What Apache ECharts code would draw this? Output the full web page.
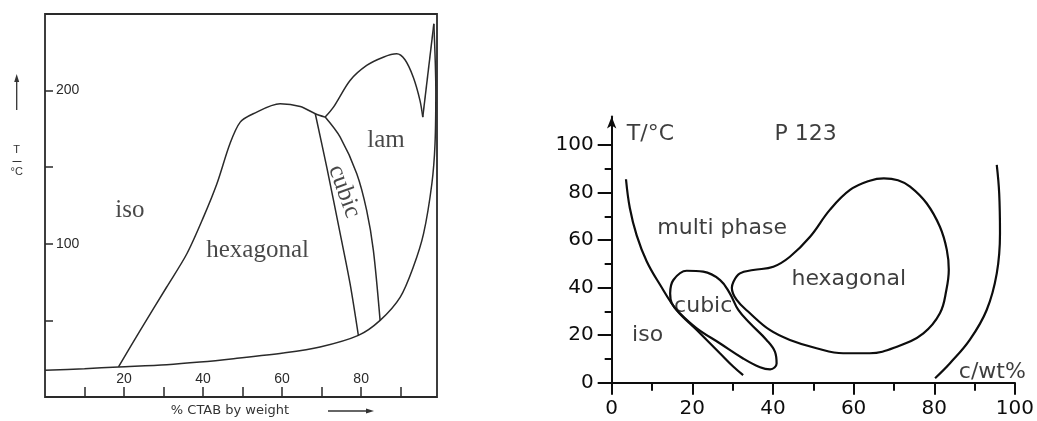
<!DOCTYPE html>
<html><head><meta charset="utf-8">
<script src="https://cdn.jsdelivr.net/npm/echarts@6/dist/echarts.min.js"></script>
<style>html,body{margin:0;padding:0;background:#fff}#c{width:1037px;height:421px}</style>
</head><body><div id="c"></div>
<script>
// ---------- Left panel: CTAB / water ----------
const ctabXTicks = [10, 20, 30, 40, 50, 60, 70, 80, 90];
const ctabXLabels = [20, 40, 60, 80];
const ctabYTicks = [50, 100, 150, 200];
const ctabYLabels = [100, 200];
const ctabSolidus = [[0,17.4],[10,18.5],[18.6,19.6],[30.8,21.1],[39.2,22.8],[47.7,25.0],[60.3,28.7],[69.6,32.6],[79.3,40.2],[84.8,50.0],[89.9,65.2],[93.2,84.8],[95.8,106.6],[97.9,139.2],[98.7,165.3],[98.9,200],[98.4,243.6]];
const ctabIsoHex = [[18.6,19.6],[24.1,43.5],[30.8,71.8],[35.9,93.5],[40.1,117.4],[43.5,139.2],[46.8,165.3],[49.4,179.4],[52.7,184.9],[59.5,191.4],[64.6,189.6],[68.4,184.9],[70.9,182.7]];
const ctabHexCubic = [[68.4,184.9],[71.3,150.0],[74.7,106.6],[77.2,74.0],[79.3,40.2]];
const ctabCubicLam = [[70.9,182.7],[74.7,169.6],[78.9,145.7],[81.4,121.8],[83.1,95.7],[84.8,50.0]];
const ctabLamTop = [[70.9,182.7],[73.0,189.2],[77.2,206.6],[81.4,216.4],[85.6,221.8],[89.0,224.0],[91.1,220.1],[93.2,208.7],[94.9,193.5],[95.6,182.7]];
const ctabSpike = [[95.6,182.7],[98.4,243.6]];
const ctabRegions = [['iso',21.5,121.8],['hexagonal',53.8,95.7],['lam',86.3,167.4]];
const ctabCubicLabel = [['cubic',75.7,134.1]];

// ---------- Right panel: P123 ----------
const p123XMajor = [0, 20, 40, 60, 80, 100];
const p123XMinor = [10, 30, 50, 70, 90];
const p123YMajor = [0, 20, 40, 60, 80, 100];
const p123YMinor = [10, 30, 50, 70, 90];
const p123IsoLine = [[3.55,85.6],[4.5,73.5],[6.2,62],[8.7,51],[12.0,41.2],[16.1,30.6],[21.1,22.2],[26.9,12.3],[30.2,6.7],[32.6,3.2]];
const p123CubicLoop = [[14.5,37.6],[15.3,43.2],[18.6,47.1],[22.7,46.7],[26.9,43.2],[29.3,37.6],[31.4,30.6],[34.3,25.0],[38.4,18.0],[40.5,13.0],[40.9,8.1],[39.3,5.6],[36.8,6.5],[32.6,10.2],[26.9,16.5],[21.1,22.9],[16.9,29.2],[14.9,33.4],[14.5,37.6]];
const p123HexLoop = [[30.2,42.5],[31.8,46.0],[35.1,47.4],[40.1,48.8],[44.2,53.0],[49.2,61.4],[54.1,72.7],[59.1,81.1],[64.0,85.0],[67.5,86.0],[71.0,85.2],[74.0,82.5],[78.1,75.5],[81.4,65.6],[83.1,56.0],[83.6,47.5],[83.0,39.0],[81.4,29.2],[77.3,20.8],[70.7,15.1],[64.0,12.4],[57.4,12.4],[50.8,14.5],[44.2,18.0],[39.2,22.2],[34.3,29.2],[31.0,34.8],[29.8,40.0],[30.2,42.5]];
const p123RightLine = [[80.2,1.9],[83.9,8.2],[88.8,18.0],[93.0,30.6],[95.5,46.0],[96.3,62.9],[96.1,79.7],[95.5,91.6]];
const p123Regions = [['multi phase',27.4,65.1],['hexagonal',58.8,43.6],['cubic',22.7,32.0],['iso',8.9,20.1]];
const p123Texts = [['T/°C',9.6,104.5],['P 123',48.1,104.5],['c/wt%',94.4,4.3]];

const LC = '#2a2a2a', RC = '#0d0d0d';
const serif = 'Liberation Serif', sans = 'DejaVu Sans';

function curve(data, xi, yi, color, width, smooth) {
  return { type: 'line', xAxisIndex: xi, yAxisIndex: yi, data: data, showSymbol: false, symbol: 'none',
    smooth: smooth, smoothMonotone: null, silent: true, lineStyle: { color: color, width: width } };
}
function labels(list, xi, yi, font, size, color, rotate) {
  return { type: 'scatter', xAxisIndex: xi, yAxisIndex: yi, symbolSize: 0, silent: true,
    data: list.map(d => ({ name: d[0], value: [d[1], d[2]] })),
    label: { show: true, position: 'inside', formatter: '{b}', fontFamily: font, fontSize: size,
      color: color, rotate: rotate || 0, align: 'center', verticalAlign: 'middle' } };
}

const option = {
  animation: false,
  backgroundColor: '#fff',
  grid: [
    { left: 45, top: 14, width: 392, height: 383, show: true, borderColor: LC, borderWidth: 1.8, backgroundColor: 'transparent' },
    { left: 601.6, top: 116.5, width: 413.4, height: 266.2 }
  ],
  xAxis: [
    { type: 'value', gridIndex: 0, min: 0, max: 99.2, interval: 10,
      axisLine: { show: false }, splitLine: { show: false },
      axisTick: { inside: true, length: 10, customValues: ctabXTicks, lineStyle: { color: LC, width: 1.5 } },
      axisLabel: { inside: true, margin: 11, customValues: ctabXLabels, fontFamily: 'Liberation Sans', fontSize: 14, color: '#2a2a2a' } },
    { type: 'value', gridIndex: 1, min: -2.5, max: 100, position: 'bottom',
      axisLine: { show: true, lineStyle: { color: RC, width: 2 } }, splitLine: { show: false },
      axisTick: { show: true, length: 12, customValues: p123XMajor, lineStyle: { color: RC, width: 2 } },
      axisLabel: { margin: 16, customValues: p123XMajor, fontFamily: sans, fontSize: 20, color: RC } },
    { type: 'value', gridIndex: 1, min: -2.5, max: 100, position: 'bottom',
      axisLine: { show: false }, splitLine: { show: false },
      axisTick: { show: true, length: 8, customValues: p123XMinor, lineStyle: { color: RC, width: 2 } },
      axisLabel: { show: false } }
  ],
  yAxis: [
    { type: 'value', gridIndex: 0, min: 0, max: 250, interval: 50,
      axisLine: { show: false }, splitLine: { show: false },
      axisTick: { inside: true, length: 8, customValues: ctabYTicks, lineStyle: { color: LC, width: 1.5 } },
      axisLabel: { inside: true, margin: 11, customValues: ctabYLabels, fontFamily: 'Liberation Sans', fontSize: 14, color: '#2a2a2a' } },
    { type: 'value', gridIndex: 1, min: 0, max: 112, position: 'left',
      axisLine: { show: true, onZero: true, symbol: ['none', 'arrow'], symbolSize: [7, 12], lineStyle: { color: RC, width: 2 } },
      splitLine: { show: false },
      axisTick: { show: true, length: 14, customValues: p123YMajor, lineStyle: { color: RC, width: 2 } },
      axisLabel: { margin: 8, customValues: p123YMajor, fontFamily: sans, fontSize: 20, color: RC } },
    { type: 'value', gridIndex: 1, min: 0, max: 112, position: 'left',
      axisLine: { show: false, onZero: true }, splitLine: { show: false },
      axisTick: { show: true, length: 7, customValues: p123YMinor, lineStyle: { color: RC, width: 2 } },
      axisLabel: { show: false } }
  ],
  series: [
    curve(ctabSolidus, 0, 0, LC, 1.5, 0.3),
    curve(ctabIsoHex, 0, 0, LC, 1.5, 0.3),
    curve(ctabHexCubic, 0, 0, LC, 1.5, 0.3),
    curve(ctabCubicLam, 0, 0, LC, 1.5, 0.3),
    curve(ctabLamTop, 0, 0, LC, 1.5, 0.3),
    curve(ctabSpike, 0, 0, LC, 1.5, false),
    labels(ctabRegions, 0, 0, serif, 25, '#1a1a1a'),
    labels(ctabCubicLabel, 0, 0, serif, 25, '#1a1a1a', -70),
    curve(p123IsoLine, 1, 1, RC, 2.2, 0.4),
    curve(p123CubicLoop, 1, 1, RC, 2.2, 0.4),
    curve(p123HexLoop, 1, 1, RC, 2.2, 0.4),
    curve(p123RightLine, 1, 1, RC, 2.2, 0.4),
    labels(p123Regions, 1, 1, sans, 22, RC),
    labels(p123Texts, 1, 1, sans, 22, RC)
  ],
  graphic: [
    { type: 'line', shape: { x1: 16.7, y1: 110, x2: 16.7, y2: 79 }, style: { stroke: '#333', lineWidth: 1.3 } },
    { type: 'polygon', shape: { points: [[16.7, 74], [14.2, 82], [19.2, 82]] }, style: { fill: '#333' } },
    { type: 'text', x: 16.7, y: 150, style: { text: 'T', font: '11px Liberation Sans', fill: '#333', align: 'center', verticalAlign: 'middle' } },
    { type: 'line', shape: { x1: 12.5, y1: 161.5, x2: 21.5, y2: 161.5 }, style: { stroke: '#333', lineWidth: 1 } },
    { type: 'text', x: 16.7, y: 172, style: { text: '°C', font: '11px Liberation Sans', fill: '#333', align: 'center', verticalAlign: 'middle' } },
    { type: 'text', x: 230, y: 411, style: { text: '% CTAB by weight', font: '13px DejaVu Sans', fill: '#333', align: 'center', verticalAlign: 'middle' } },
    { type: 'line', shape: { x1: 328, y1: 411, x2: 368, y2: 411 }, style: { stroke: '#333', lineWidth: 1.3 } },
    { type: 'polygon', shape: { points: [[374, 411], [366, 408.5], [366, 413.5]] }, style: { fill: '#333' } }
  ]
};
echarts.init(document.getElementById('c'), null, { renderer: 'canvas' }).setOption(option);
</script>
</body></html>
